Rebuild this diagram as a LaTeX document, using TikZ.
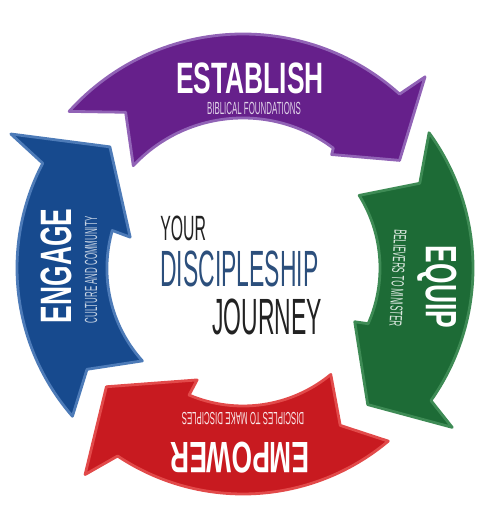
\documentclass[tikz,border=0pt]{standalone}
\usepackage{fontspec}
\setmainfont{Liberation Sans}
\newfontfamily\titlefont[FakeStretch=0.6]{Liberation Sans}
\newfontfamily\narrowfont[FakeStretch=0.45]{Liberation Sans}
\usepackage{tikz}

\definecolor{estfill}{HTML}{66208B}
\definecolor{estedge}{HTML}{9163B6}
\definecolor{equfill}{HTML}{1D6B36}
\definecolor{equedge}{HTML}{3E8B55}
\definecolor{empfill}{HTML}{C81A20}
\definecolor{empedge}{HTML}{E24A4A}
\definecolor{engfill}{HTML}{174A8E}
\definecolor{engedge}{HTML}{4D7BB8}
\definecolor{coreblue}{HTML}{2C4F7C}
\definecolor{coreink}{HTML}{222222}

\begin{document}
\begin{tikzpicture}[
  x=0.2mm, y=0.2mm,
  band/.style={line width=1.6pt, line join=round},
  title/.style={text=white, inner sep=0pt,
                font=\titlefont\bfseries\fontsize{25}{25}\selectfont},
  subtitle/.style={inner sep=0pt,
                   font=\narrowfont\fontsize{10}{10}\selectfont},
  core/.style={inner sep=0pt, anchor=base west,
               font=\narrowfont\fontsize{29}{29}\selectfont}
]
\useasboundingbox (-243,-244) rectangle (244,268);

% establish (top)
\filldraw[band, fill=estfill, draw=estedge]
  (138:234) arc[start angle=138, end angle=48, radius=234]
  -- (46.4:264) -- (34.5:190) -- (52:144)
  -- (53:150) arc[start angle=53, end angle=137, radius=150]
  -- (127:195) -- cycle;
% equip (right)
\filldraw[band, fill=equfill, draw=equedge]
  (36:230) arc[start angle=36, end angle=-35.2, radius=230]
  -- (-37.3:263) -- (-47.6:185) -- (-25.7:124)
  -- (-24:137) arc[start angle=-24, end angle=32, radius=137]
  -- (25.6:196) -- cycle;
% empower (bottom)
\filldraw[band, fill=empfill, draw=empedge]
  (-50:226) arc[start angle=-50, end angle=-123.7, radius=226]
  -- (-127.4:260) -- (-139:181) -- (-112.3:121)
  -- (-113:138) arc[start angle=-113, end angle=-50.5, radius=138]
  -- (-58.3:185) -- cycle;
% engage (left)
\filldraw[band, fill=engfill, draw=engedge]
  (221:226) arc[start angle=221, end angle=152.4, radius=226]
  -- (150:268) -- (137.7:180) -- (164.7:117)
  -- (164:136) arc[start angle=164, end angle=222, radius=138]
  -- (213:186) -- cycle;

% labels
\node[title] (establish) at (7,190) {ESTABLISH};
\node[subtitle, text=estfill!20!white] (foundations) at (11,160) {BIBLICAL FOUNDATIONS};
\node[title, rotate=-90] (equip) at (194,-19) {EQUIP};
\node[subtitle, rotate=-93, text=equfill!15!white] (ministers) at (155,-10) {BELIEVERS TO MINISTER};
\node[title, rotate=180] (empower) at (-3,-190) {EMPOWER};
\node[subtitle, rotate=180, text=empfill!10!white] (disciples) at (0,-151) {DISCIPLES TO MAKE DISCIPLES};
\node[title, rotate=90] (engage) at (-187,2) {ENGAGE};
\node[subtitle, rotate=90, text=engfill!25!white] (community) at (-152,-2) {CULTURE AND COMMUNITY};

% centre
\node[core, text=coreink, font=\narrowfont\fontsize{20}{20}\selectfont] (your) at (-83,27) {YOUR};
\node[core, text=coreblue] (discipleship) at (-83,-19) {DISCIPLESHIP};
\node[core, text=coreink] (journey) at (-31,-67) {JOURNEY};
\end{tikzpicture}
\end{document}
